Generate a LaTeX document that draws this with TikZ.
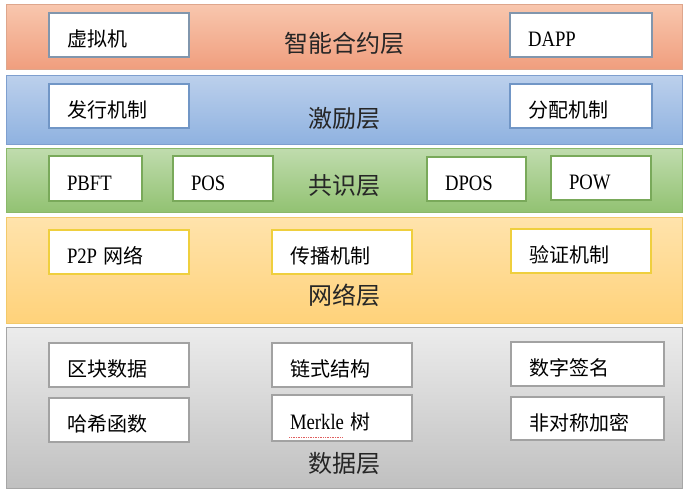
\documentclass[tikz,border=0pt]{standalone}
\usepackage{fontspec}
\usepackage{graphicx}
\setmainfont{Noto Sans CJK SC}
\newfontfamily\latf{Liberation Serif}
\newcommand\lt[1]{\scalebox{0.85}[1]{\latf\fontsize{22}{22}\selectfont #1}}
\definecolor{obd}{HTML}{8196AD}
\definecolor{bbd}{HTML}{7196C6}
\definecolor{gbd}{HTML}{79A95A}
\definecolor{ybd}{HTML}{EFCF3E}
\definecolor{kbd}{HTML}{A2A2A2}
\definecolor{spell}{HTML}{E06060}
\tikzset{
  layer/.style={draw, line width=0.8pt, minimum width=676pt, inner sep=0pt},
  box/.style={fill=white, line width=1.8pt, inner xsep=18pt, inner ysep=0pt,
    align=left, text height=23pt, text depth=0pt,
    font=\fontsize{20}{20}\selectfont},
  lname/.style={anchor=base, text=black!85, font=\fontsize{24}{24}\selectfont}
}
\begin{document}
\begin{tikzpicture}[x=1pt,y=-1pt]
\fill[white] (0,0) rectangle (699,496);
\useasboundingbox (0,0) rectangle (699,496);
% layers
\node[layer, top color={rgb,255:red,248;green,199;blue,174}, bottom color={rgb,255:red,240;green,158;blue,126}, draw={rgb,255:red,222;green,166;blue,140}, minimum height=65pt] (l1) at (344,36.5) {};
\node[layer, top color={rgb,255:red,188;green,208;blue,236}, bottom color={rgb,255:red,143;green,178;blue,224}, draw={rgb,255:red,126;green,159;blue,207}, minimum height=69pt] (l2) at (344,109.5) {};
\node[layer, top color={rgb,255:red,192;green,220;blue,174}, bottom color={rgb,255:red,146;green,194;blue,114}, draw={rgb,255:red,138;green,184;blue,106}, minimum height=64pt] (l3) at (344,180) {};
\node[layer, top color={rgb,255:red,255;green,227;blue,172}, bottom color={rgb,255:red,255;green,210;blue,122}, draw={rgb,255:red,242;green,201;blue,106}, minimum height=106pt] (l4) at (344,270) {};
\node[layer, top color={rgb,255:red,236;green,236;blue,236}, bottom color={rgb,255:red,192;green,192;blue,192}, draw={rgb,255:red,166;green,166;blue,166}, minimum height=161pt] (l5) at (344,407.5) {};
% layer names
\node[lname] (n1) at (344,52) {智能合约层};
\node[lname] (n2) at (344,127) {激励层};
\node[lname] (n3) at (344,194) {共识层};
\node[lname] (n4) at (344,304) {网络层};
\node[lname] (n5) at (344,472) {数据层};
% smart contract layer
\node[box, draw=obd, minimum width=140pt, minimum height=44pt, text width=104pt] (vm) at (119,35) {虚拟机};
\node[box, draw=obd, minimum width=142pt, minimum height=44pt, text width=106pt] (dapp) at (581,35) {\lt{DAPP}};
% incentive layer
\node[box, draw=bbd, minimum width=140pt, minimum height=44pt, text width=104pt] (fx) at (119,106) {发行机制};
\node[box, draw=bbd, minimum width=142pt, minimum height=44pt, text width=106pt] (fp) at (581,106) {分配机制};
% consensus layer
\node[box, draw=gbd, minimum width=93pt, minimum height=45pt, text width=57pt] (pbft) at (95.5,178.5) {\lt{PBFT}};
\node[box, draw=gbd, minimum width=100pt, minimum height=45pt, text width=64pt] (pos) at (223,178.5) {\lt{POS}};
\node[box, draw=gbd, minimum width=99pt, minimum height=44pt, text width=63pt] (dpos) at (476.5,179) {\lt{DPOS}};
\node[box, draw=gbd, minimum width=100pt, minimum height=44pt, text width=64pt] (pow) at (601,178) {\lt{POW}};
% network layer
\node[box, draw=ybd, minimum width=140pt, minimum height=44pt, text width=104pt] (p2p) at (119,252) {\lt{P2P} 网络};
\node[box, draw=ybd, minimum width=140pt, minimum height=44pt, text width=104pt] (cb) at (342,252) {传播机制};
\node[box, draw=ybd, minimum width=140pt, minimum height=44pt, text width=104pt] (yz) at (581,251) {验证机制};
% data layer
\node[box, draw=kbd, minimum width=140pt, minimum height=44pt, text width=104pt] (qk) at (119,365) {区块数据};
\node[box, draw=kbd, minimum width=140pt, minimum height=44pt, text width=104pt] (hx) at (119,420) {哈希函数};
\node[box, draw=kbd, minimum width=140pt, minimum height=44pt, text width=104pt] (ls) at (342,365) {链式结构};
\node[box, draw=kbd, minimum width=140pt, minimum height=46pt, text width=104pt] (mk) at (342,418) {\lt{Merkle} 树};
\node[box, draw=kbd, minimum width=153pt, minimum height=44pt, text width=117pt] (sz) at (587.5,364) {数字签名};
\node[box, draw=kbd, minimum width=153pt, minimum height=43pt, text width=117pt] (fd) at (587.5,418.5) {非对称加密};
% spell-check underline under Merkle
\draw[spell, densely dotted, line width=0.7pt] ([shift={(18pt,5pt)}]mk.south west) -- ++(54,0);
\end{tikzpicture}
\end{document}
